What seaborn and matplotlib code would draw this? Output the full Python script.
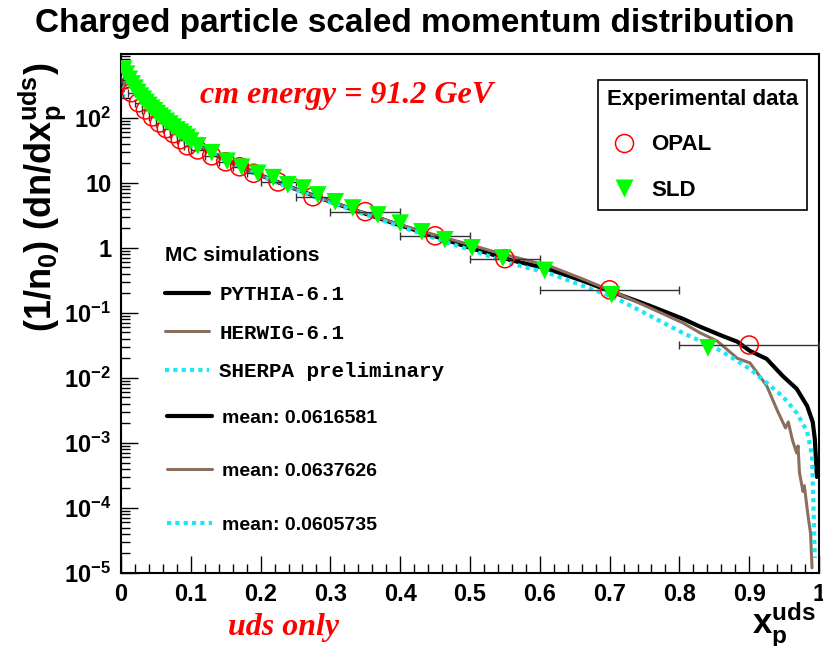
import numpy as np
import pandas as pd
import matplotlib
matplotlib.use("Agg")
import matplotlib.pyplot as plt
import seaborn as sns
from matplotlib.lines import Line2D
from matplotlib.font_manager import FontProperties
from matplotlib.ticker import FixedLocator, MultipleLocator, LogLocator, NullFormatter

# ---------------- data ----------------
opal_x = [0.005, 0.015, 0.025, 0.035, 0.045, 0.055, 0.065, 0.075, 0.085, 0.095,
          0.11, 0.13, 0.15, 0.17, 0.19, 0.225, 0.275, 0.35, 0.45, 0.55, 0.70, 0.90]
opal_y = [385, 243, 170, 132, 103, 83, 68, 57, 46, 37,
          32, 26, 21, 17.6, 14, 10.3, 6.1, 3.6, 1.53, 0.68, 0.226, 0.032]
opal_xerr = [0.005] * 10 + [0.01] * 5 + [0.025, 0.025] + [0.05] * 3 + [0.1, 0.1]

sld_x = [0.004, 0.008, 0.012, 0.016, 0.020, 0.024, 0.028, 0.032, 0.036, 0.040,
         0.044, 0.048, 0.052, 0.056, 0.060, 0.065, 0.070, 0.075, 0.080, 0.085,
         0.090, 0.095, 0.100, 0.110, 0.130, 0.152, 0.173, 0.196, 0.218, 0.239,
         0.261, 0.282, 0.307, 0.332, 0.368, 0.400, 0.431, 0.464, 0.503, 0.547,
         0.607, 0.703, 0.841]
sld_y = [560, 470, 390, 330, 285, 245, 215, 192, 172, 155,
         140, 128, 116, 106, 98, 88, 80, 72, 65, 60,
         55, 50, 44, 37, 29, 21.5, 17.4, 14, 12, 9.3,
         8.3, 6.5, 5.1, 4.1, 3.2, 2.4, 1.76, 1.33, 1.0, 0.70,
         0.45, 0.19, 0.029]

pythia_x = [0.0025, 0.0075, 0.0125, 0.0175, 0.025, 0.035, 0.045, 0.055, 0.065, 0.075,
            0.085, 0.095, 0.11, 0.13, 0.15, 0.17, 0.19, 0.21, 0.23, 0.25,
            0.27, 0.29, 0.31, 0.33, 0.35, 0.37, 0.39, 0.41, 0.43, 0.45,
            0.47, 0.50, 0.53, 0.56, 0.59, 0.615, 0.662, 0.711, 0.758, 0.805,
            0.830, 0.862, 0.883, 0.901, 0.925, 0.948, 0.968, 0.983, 0.991, 0.994, 0.997]
pythia_y = [260, 470, 370, 300, 230, 170, 132, 104, 84, 69,
            57, 48, 38, 29, 22.5, 18, 14.5, 11.8, 9.7, 8.0,
            6.7, 5.6, 4.7, 3.95, 3.35, 2.85, 2.4, 2.05, 1.75, 1.5,
            1.28, 1.0, 0.80, 0.64, 0.54, 0.46, 0.31, 0.196, 0.128, 0.081,
            0.061, 0.044, 0.036, 0.026, 0.0196, 0.0107, 0.0068, 0.0037, 0.0021, 0.00115, 0.0003]

herwig_x = [0.0025, 0.0075, 0.0125, 0.0175, 0.025, 0.035, 0.045, 0.055, 0.065, 0.075,
            0.085, 0.095, 0.11, 0.13, 0.15, 0.17, 0.19, 0.21, 0.23, 0.25,
            0.27, 0.29, 0.31, 0.33, 0.35, 0.37, 0.39, 0.41, 0.43, 0.45,
            0.47, 0.50, 0.53, 0.56, 0.59, 0.615, 0.662, 0.711, 0.758, 0.805,
            0.830, 0.854, 0.883, 0.901, 0.925, 0.940, 0.952, 0.956, 0.962, 0.968,
            0.970, 0.972, 0.977, 0.979, 0.984, 0.988, 0.990]
herwig_y = [250, 460, 370, 300, 230, 170, 132, 104, 84, 69,
            57, 48, 38, 29, 22.5, 18, 14.5, 11.8, 9.7, 8.0,
            6.7, 5.6, 4.75, 4.0, 3.4, 2.9, 2.45, 2.1, 1.82, 1.58,
            1.37, 1.12, 0.90, 0.74, 0.61, 0.52, 0.33, 0.20, 0.119, 0.070,
            0.049, 0.037, 0.020, 0.017, 0.0076, 0.0032, 0.0017, 0.0021, 0.0011, 0.0007,
            0.0009, 0.00035, 0.00018, 0.00022, 8e-5, 4e-5, 1.2e-5]

sherpa_x = [0.0025, 0.0075, 0.0125, 0.0175, 0.025, 0.035, 0.045, 0.055, 0.065, 0.075,
            0.085, 0.095, 0.11, 0.13, 0.15, 0.17, 0.19, 0.21, 0.23, 0.25,
            0.27, 0.29, 0.31, 0.33, 0.35, 0.37, 0.39, 0.41, 0.43, 0.45,
            0.47, 0.50, 0.53, 0.56, 0.59, 0.615, 0.662, 0.711, 0.758, 0.805,
            0.854, 0.877, 0.901, 0.925, 0.948, 0.968, 0.983, 0.990, 0.991, 0.994]
sherpa_y = [200, 450, 365, 295, 228, 168, 130, 103, 83, 68,
            56, 47, 37.5, 28.5, 22, 17.6, 14.2, 11.5, 9.4, 7.8,
            6.5, 5.4, 4.6, 3.85, 3.25, 2.75, 2.3, 1.95, 1.65, 1.4,
            1.18, 0.93, 0.73, 0.57, 0.47, 0.40, 0.26, 0.164, 0.09, 0.049,
            0.028, 0.020, 0.0137, 0.0084, 0.0052, 0.0029, 0.0015, 0.00063, 0.00028, 1.7e-5]

mc_names = ["PYTHIA-6.1", "HERWIG-6.1", "SHERPA preliminary"]
mc_means = ["mean: 0.0616581", "mean: 0.0637626", "mean: 0.0605735"]

xtick_vals = [0, 0.1, 0.2, 0.3, 0.4, 0.5, 0.6, 0.7, 0.8, 0.9, 1.0]
xtick_labels = ["0", "0.1", "0.2", "0.3", "0.4", "0.5", "0.6", "0.7", "0.8", "0.9", "1"]
ytick_vals = [1e-5, 1e-4, 1e-3, 1e-2, 1e-1, 1, 10, 100]
ytick_labels = [r"$\mathbf{10^{-5}}$", r"$\mathbf{10^{-4}}$", r"$\mathbf{10^{-3}}$",
                r"$\mathbf{10^{-2}}$", r"$\mathbf{10^{-1}}$", "1", "10", r"$\mathbf{10^{2}}$"]

# ---------------- style ----------------
sns.set_theme(style="ticks")
plt.rcParams["font.family"] = ["Liberation Sans", "DejaVu Sans"]
plt.rcParams["mathtext.fontset"] = "custom"
plt.rcParams["mathtext.rm"] = "Liberation Sans:bold"
plt.rcParams["mathtext.bf"] = "Liberation Sans:bold"
plt.rcParams["mathtext.it"] = "Liberation Sans:bold"
for k in ["text.color", "axes.labelcolor", "xtick.color", "ytick.color", "axes.edgecolor"]:
    plt.rcParams[k] = "black"

C_BLACK = "#000000"
C_BROWN = "#8c6e5e"
C_CYAN = "#1ee6f5"
DOT = (0, (1, 1))

fig = plt.figure(figsize=(8.23, 6.46), dpi=100)
ax = fig.add_axes([121 / 823, 1 - 573 / 646, 698 / 823, 519 / 646])

# MC curves
sns.lineplot(x=pythia_x, y=pythia_y, ax=ax, color=C_BLACK, lw=3.0, estimator=None, sort=False)
sns.lineplot(x=herwig_x, y=herwig_y, ax=ax, color=C_BROWN, lw=2.2, estimator=None, sort=False)
sns.lineplot(x=sherpa_x, y=sherpa_y, ax=ax, color=C_CYAN, lw=3.0, estimator=None, sort=False,
             linestyle=DOT)

# Data
ax.errorbar(opal_x, opal_y, xerr=opal_xerr, fmt="none", ecolor="#333333",
            elinewidth=1.0, capsize=3, capthick=1.0, zorder=4)
sns.scatterplot(x=opal_x, y=opal_y, ax=ax, marker="o", s=170, facecolors="none",
                edgecolor="#ff0000", linewidth=1.1, zorder=5)
sns.scatterplot(x=sld_x, y=sld_y, ax=ax, marker="v", s=160, color="#00ff00",
                edgecolor="none", linewidth=0, zorder=6)

# axes
ax.set_yscale("log")
ax.set_xlim(0, 1)
ax.set_ylim(1e-5, 955)
ax.xaxis.set_major_locator(FixedLocator(xtick_vals))
ax.set_xticklabels(xtick_labels)
ax.xaxis.set_minor_locator(MultipleLocator(0.02))
ax.yaxis.set_major_locator(FixedLocator(ytick_vals))
ax.set_yticklabels(ytick_labels)
ax.yaxis.set_minor_locator(LogLocator(base=10, subs=np.arange(2, 10)))
ax.yaxis.set_minor_formatter(NullFormatter())
ax.tick_params(which="both", direction="in", top=False, right=False, colors="black")
ax.tick_params(which="major", length=12.5, width=1.0, labelsize=17, pad=7)
ax.tick_params(which="minor", length=6.5, width=1.0)
for lab in ax.get_xticklabels() + ax.get_yticklabels():
    lab.set_fontweight("bold")
for sp in ax.spines.values():
    sp.set_visible(True)
    sp.set_linewidth(1.5)
    sp.set_color("black")
ax.set_xlabel("")
ax.set_ylabel("")
ax.grid(False)

# legends
bold16 = FontProperties(family="Liberation Sans", weight="bold", size=16)
h_opal = Line2D([], [], marker="o", ls="none", markersize=13, markerfacecolor="none",
                markeredgecolor="#ff0000", markeredgewidth=1.1)
h_sld = Line2D([], [], marker="v", ls="none", markersize=12.5, markerfacecolor="#00ff00",
               markeredgecolor="none")
leg1 = ax.legend([h_opal, h_sld], ["OPAL", "SLD"], title="Experimental data",
                 title_fontproperties=bold16, prop=bold16, loc="upper left",
                 bbox_to_anchor=(0.683, 0.950), borderaxespad=0, frameon=True,
                 fancybox=False, edgecolor="black", framealpha=1, borderpad=0.4,
                 labelspacing=1.1, handlelength=1.55, handletextpad=0.45,
                 alignment="left")
leg1.get_frame().set_linewidth(1.2)
ax.add_artist(leg1)

bold15 = FontProperties(family="Liberation Sans", weight="bold", size=15)
mono = FontProperties(family="Liberation Mono", weight="bold", size=15)
h_py = Line2D([], [], color=C_BLACK, lw=3.0)
h_hw = Line2D([], [], color=C_BROWN, lw=2.2)
h_sh = Line2D([], [], color=C_CYAN, lw=3.0, ls=DOT)
leg2 = ax.legend([h_py, h_hw, h_sh], mc_names, title="MC simulations",
                 title_fontproperties=bold15, prop=mono, loc="upper left",
                 bbox_to_anchor=(0.063, 0.630), borderaxespad=0, frameon=False,
                 borderpad=0, labelspacing=0.95, handlelength=2.1, handletextpad=0.5,
                 alignment="left")
ax.add_artist(leg2)

bold14 = FontProperties(family="Liberation Sans", weight="bold", size=14)
leg3 = ax.legend([h_py, h_hw, h_sh], mc_means, prop=bold14, loc="upper left",
                 bbox_to_anchor=(0.066, 0.316), borderaxespad=0, frameon=False,
                 borderpad=0, labelspacing=1.85, handlelength=2.3, handletextpad=0.5)

# texts
fig.text(0.504, 0.964, "Charged particle scaled momentum distribution", ha="center",
         va="center", fontsize=24, fontweight="bold")
fig.text(0.051, 0.695, r"$\mathbf{(1/n_0)\ (dn/dx_p^{uds})}$", rotation=90, fontsize=26,
         ha="center", va="center")
fig.text(0.952, 0.031, r"$\mathbf{x_p^{uds}}$", fontsize=25, ha="center", va="center")
ax.text(0.113, 0.921, "cm energy = 91.2 GeV", transform=ax.transAxes, color="#ff0000",
        fontfamily="Liberation Serif", fontstyle="italic", fontweight="bold", fontsize=23,
        va="center", ha="left")
fig.text(0.345, 0.029, "uds only", color="#ff0000", fontfamily="Liberation Serif",
         fontstyle="italic", fontweight="bold", fontsize=23, va="center", ha="center")

fig.savefig("out.png", dpi=100)
